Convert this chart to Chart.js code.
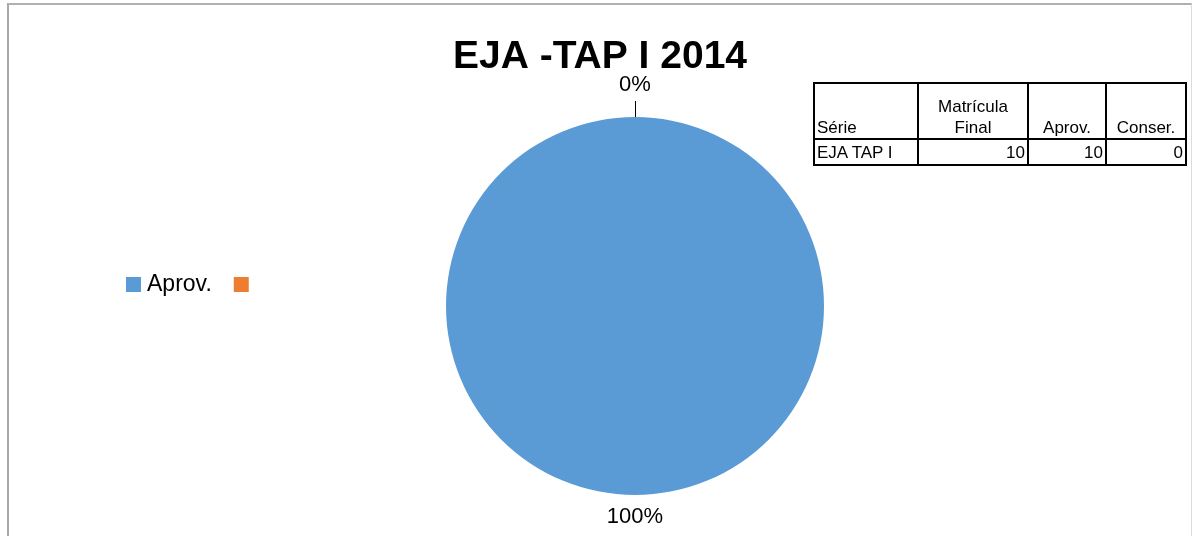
<!DOCTYPE html>
<html>
<head>
<meta charset="utf-8">
<script src="https://cdn.jsdelivr.net/npm/chart.js@4.4.1/dist/chart.umd.min.js"></script>
<style>
  html, body { margin: 0; padding: 0; background: #fff; }
  #wrap { position: relative; width: 1192px; height: 536px; overflow: hidden; }
  #grafico { position: absolute; left: 0; top: 0; }
  #moldura {
    position: absolute; left: 7px; top: 3px; width: 1182px; height: 600px;
    border-top: 2px solid #b0b0b0; border-left: 2px solid #a8a8a8; border-right: 1px solid #dcdcdc;
    pointer-events: none;
  }
  #tabela {
    position: absolute; left: 813px; top: 82px;
    border-collapse: collapse;
    font-family: "Liberation Sans", Arial, sans-serif; font-size: 17px; color: #000;
  }
  #tabela td { border: 2px solid #000; padding: 0 2px; line-height: 21px; }
  #tabela tr.cab td { height: 54px; vertical-align: bottom; text-align: center; }
  #tabela tr.cab td:first-child { text-align: left; }
  #tabela tr.linha td { height: 24px; text-align: right; }
  #tabela tr.linha td:first-child { text-align: left; }
</style>
</head>
<body>
<div id="wrap">
  <canvas id="grafico" width="1192" height="536"></canvas>
  <div id="moldura"></div>
  <table id="tabela"></table>
</div>
<script>
// dados da turma
const titulo = 'EJA -TAP I 2014';
const serie = 'EJA TAP I';
const matriculaFinal = 10;
const categorias = ['Aprov.', ''];
const valores = [10, 0];
const cabecalho = ['Série', 'Matrícula<br>Final', 'Aprov.', 'Conser.'];
const larguras = [104, 110, 78, 80];
const cores = ['#5b9bd5', '#ed7d31'];

// tabela ao lado do gráfico
const tabela = document.getElementById('tabela');
let html = '<tr class="cab">';
cabecalho.forEach((c, i) => { html += `<td style="width:${larguras[i] - 6}px">${c}</td>`; });
html += '</tr><tr class="linha">';
[serie, matriculaFinal, valores[0], valores[1]].forEach(v => { html += `<td>${v}</td>`; });
html += '</tr>';
tabela.innerHTML = html;

const fonte = '"Liberation Sans", Arial, sans-serif';

// título, legenda em linha e rótulos de porcentagem
const rotulosPlugin = {
  id: 'rotulos',
  afterDraw(chart) {
    const ctx = chart.ctx;
    const meta = chart.getDatasetMeta(0);
    const total = valores.reduce((a, b) => a + b, 0);
    ctx.save();

    ctx.font = 'bold 39px ' + fonte;
    ctx.fillStyle = '#000';
    ctx.textAlign = 'center';
    ctx.textBaseline = 'alphabetic';
    ctx.fillText(titulo, chart.width / 2 + 4, 68);

    ctx.font = '22px ' + fonte;
    ctx.textBaseline = 'middle';
    meta.data.forEach((arc, i) => {
      const p = arc.getProps(['x', 'y', 'startAngle', 'endAngle', 'outerRadius'], true);
      const ang = (p.startAngle + p.endAngle) / 2;
      const pct = Math.round(valores[i] / total * 100);
      const pequeno = pct < 5;
      const dist = p.outerRadius + (pequeno ? 32 : 22);
      if (pequeno) {
        ctx.beginPath();
        ctx.strokeStyle = '#000';
        ctx.lineWidth = 1;
        ctx.moveTo(Math.round(p.x + Math.cos(ang) * p.outerRadius) + 0.5, p.y + Math.sin(ang) * p.outerRadius);
        ctx.lineTo(Math.round(p.x + Math.cos(ang) * (p.outerRadius + 16)) + 0.5, p.y + Math.sin(ang) * (p.outerRadius + 16));
        ctx.stroke();
      }
      ctx.fillText(pct + '%', p.x + Math.cos(ang) * dist, p.y + Math.sin(ang) * dist);
    });

    // legenda
    let x = 126;
    const y = 285;
    ctx.font = '23px ' + fonte;
    ctx.textAlign = 'left';
    categorias.forEach((c, i) => {
      ctx.fillStyle = cores[i];
      ctx.fillRect(x, y - 8, 15, 15);
      x += 21;
      if (c) {
        ctx.fillStyle = '#000';
        ctx.fillText(c, x, y);
        x += ctx.measureText(c).width + 22;
      }
    });
    ctx.restore();
  }
};

new Chart(document.getElementById('grafico'), {
  type: 'pie',
  data: {
    labels: categorias,
    datasets: [{
      data: valores,
      backgroundColor: cores,
      borderWidth: 0,
      hoverOffset: 0
    }]
  },
  options: {
    responsive: false,
    animation: false,
    layout: { padding: { left: 78, right: 0, top: 117, bottom: 41 } },
    plugins: {
      legend: { display: false },
      tooltip: { enabled: false },
      title: { display: false }
    }
  },
  plugins: [rotulosPlugin]
});
</script>
</body>
</html>
